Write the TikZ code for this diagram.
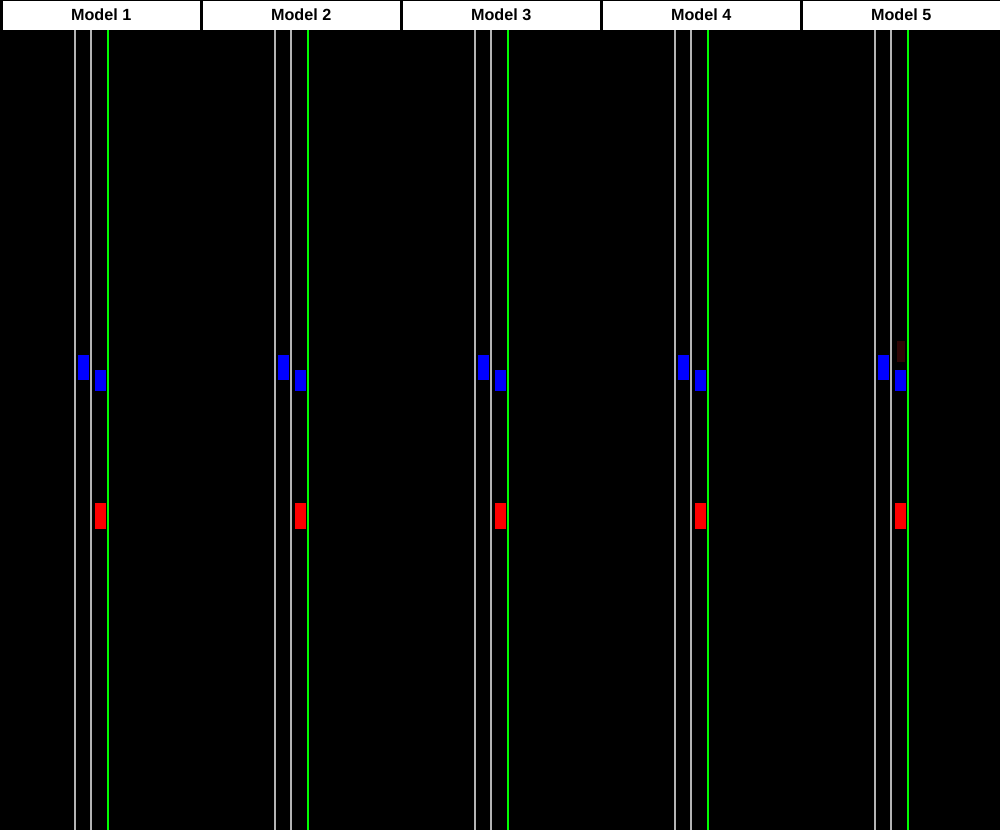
\documentclass[tikz,border=0pt]{standalone}
\usepackage{fontspec}
\setmainfont{Liberation Sans}
\usepackage{xcolor}
\usepackage{tikz}
\usetikzlibrary{positioning}
\definecolor{lGray}{HTML}{B4B4B4}
\definecolor{lGreen}{HTML}{00FF00}
\definecolor{cBlue}{HTML}{0000FF}
\definecolor{cRed}{HTML}{FF0000}
\definecolor{cSmudge}{HTML}{3A0505}

\begin{document}
\begin{tikzpicture}[
  x=0.1mm, y=-0.1mm,
  every node/.style={font=\fontsize{4.6}{5.5}\selectfont\bfseries},
  head/.style={rectangle, fill=white, inner sep=0pt, minimum width=19.7mm,
               minimum height=2.9mm, anchor=north west, text=black},
  lane/.style={draw=lGray, line width=0.12mm},
  edge/.style={draw=lGreen, line width=0.13mm},
  car/.style={fill=cBlue},
  ego/.style={fill=cRed}
]
\fill[black] (0,0) rectangle (1000,830);
\useasboundingbox (0,0) rectangle (1000,830);

\foreach \i in {1,...,5}{
  \pgfmathsetmacro{\ox}{(\i-1)*200}
  \begin{scope}[shift={(\ox,0)}]
    \node[head] (head\i) at (2,0) {Model \i};
    \draw[lane] (75,30) -- (75,830);
    \draw[lane] (91,30) -- (91,830);
    \draw[edge] (108,30) -- (108,830);
    \fill[car] (78,355) rectangle (89,380);
    \fill[car] (95,370) rectangle (106,391);
    \fill[ego] (95,503) rectangle (105.5,529);
  \end{scope}
}

% faint trace in the last panel
\fill[cSmudge, opacity=0.8] (897,341) rectangle (905,362);
\end{tikzpicture}
\end{document}
